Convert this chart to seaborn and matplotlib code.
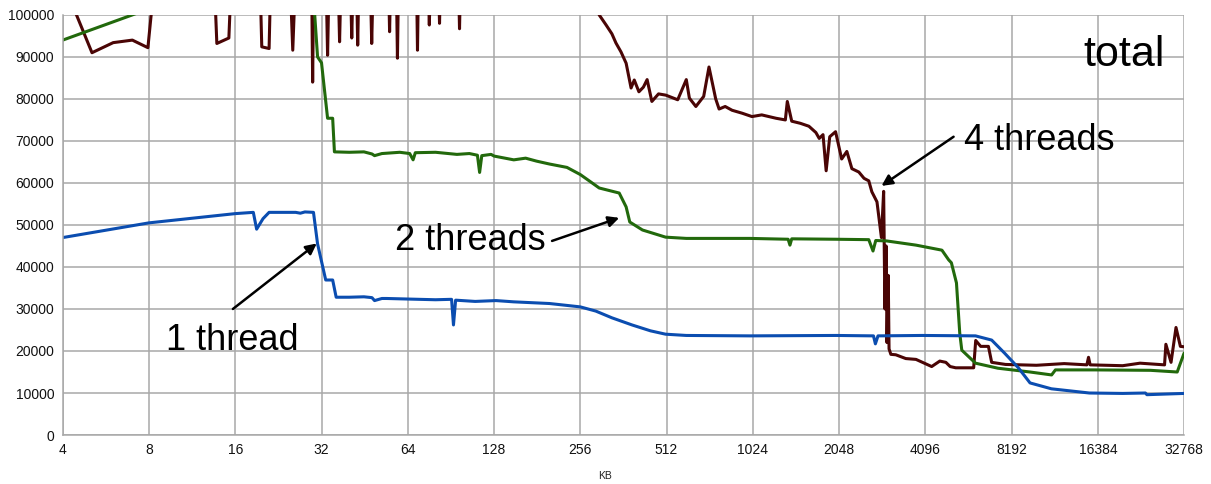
import numpy as np
import pandas as pd
import matplotlib
matplotlib.use('Agg')
import matplotlib.pyplot as plt
import seaborn as sns

# ==================== data ====================
# 1 thread
x_1t = [4, 8, 16, 18.5, 19.0, 20, 21, 26, 27, 28, 30.0, 31.0, 33.1, 35.0, 36.0,
        40, 45, 48, 49, 52, 54, 70, 80, 91, 92.4, 94, 110, 130, 150, 200, 256,
        290, 330, 388, 450, 508, 600, 1000, 2000, 2700, 2742, 2800, 4000, 6130,
        6980, 7740, 8650, 9500, 11280, 15300, 20000, 24000, 24300, 32768]
y_1t = [47000, 50500, 52700, 53000, 49000, 51500, 53000, 53000, 52800, 53100, 53000,
        45500, 36900, 36900, 32800, 32800, 32900, 32700, 32000, 32500, 32500, 32300,
        32200, 32300, 26200, 32100, 31800, 32000, 31700, 31300, 30500, 29500, 27900,
        26200, 24800, 24000, 23700, 23600, 23700, 23600, 21700, 23600, 23700, 23600,
        22600, 19500, 16000, 12400, 11000, 10000, 9900, 10000, 9600, 9900]

# 2 threads
x_2t = [4, 7.0, 8, 29.5, 30.3, 31.0, 32.0, 33.6, 35.0, 35.5, 40, 45, 48, 49, 52, 60,
        65, 66.8, 68, 80, 95, 105, 112, 114, 116, 125, 128, 150, 165, 180, 200, 230,
        256, 275, 298, 350, 370, 381, 422, 508, 600, 1000, 1360, 1380, 1400, 2000,
        2600, 2690, 2750, 3000, 3800, 4680, 4940, 5050, 5260, 5400, 5490, 6130, 7340,
        9500, 11300, 11650, 16000, 25000, 31000, 32768]
y_2t = [94000, 100000, 101500, 104000, 100000, 90000, 88600, 75400, 75400, 67400,
        67300, 67400, 66900, 66500, 67000, 67300, 67000, 65500, 67200, 67300, 66800,
        67000, 66600, 62500, 66500, 66800, 66400, 65500, 65900, 65200, 64500, 63700,
        62000, 60500, 58800, 57600, 54300, 50700, 48800, 47100, 46800, 46800, 46600,
        45200, 46700, 46600, 46500, 43800, 46300, 46200, 45200, 44000, 41700, 41000,
        36200, 24300, 20200, 17100, 15900, 15000, 14300, 15500, 15500, 15400, 15000,
        19500]

# 4 threads
x_4t = [4.0, 5.06, 6.0, 7.0, 7.93, 8.25, 13.6, 13.8, 15.2, 15.4, 19.6, 19.8, 21.0,
        21.2, 25.0, 25.4, 25.8, 29.6, 29.8, 30.0, 33.3, 33.6, 33.9, 36.7, 37.0, 37.3,
        40.5, 40.8, 41.1, 42.5, 42.8, 43.1, 47.5, 47.9, 48.3, 55.0, 55.3, 55.6, 58.5,
        58.9, 59.3, 68.8, 69.2, 69.6, 75.7, 76.1, 76.5, 82.2, 82.6, 83.0, 96.5, 97.0,
        97.5, 280, 298, 315, 330, 341, 355, 370, 385, 395, 410, 425, 438, 455, 480,
        509, 560, 600, 615, 648, 690, 720, 760, 781, 820, 867, 940, 1017, 1100, 1234,
        1330, 1351, 1400, 1500, 1607, 1700, 1746, 1800, 1846, 1900, 1991, 2091, 2180,
        2270, 2400, 2503, 2600, 2665, 2777, 2878, 2930, 2960, 2990, 3010, 3040, 3060,
        3105, 3230, 3500, 3800, 4000, 4310, 4600, 4830, 5000, 5230, 6040, 6140, 6390,
        6800, 6980, 7800, 10000, 12500, 15000, 15200, 15400, 20000, 23000, 28000,
        28300, 29500, 30700, 31800, 32768]
y_4t = [108000, 91000, 93400, 94000, 92200, 104000, 104000, 93200, 94500, 104000,
        104000, 92400, 92000, 104000, 104000, 91600, 104000, 104000, 84000, 104000,
        104000, 90400, 104000, 104000, 93600, 104000, 104000, 94500, 104000, 104000,
        92800, 104000, 104000, 93200, 104000, 104000, 96000, 104000, 104000, 89700,
        104000, 104000, 91600, 104000, 104000, 97600, 104000, 104000, 98000, 104000,
        104000, 96700, 104000, 104000, 100000, 97600, 95500, 93300, 91200, 88500,
        82600, 84500, 81700, 82800, 84600, 79400, 81200, 80900, 79800, 84600, 80200,
        78200, 80600, 87600, 80000, 77600, 78200, 77300, 76600, 75800, 76200, 75400,
        75000, 79400, 74700, 74200, 73500, 72000, 70600, 71500, 62900, 71000, 72200,
        65700, 67500, 63400, 62600, 61100, 60500, 57900, 55500, 47000, 58000, 30000,
        45000, 22000, 38000, 20500, 19200, 19100, 18200, 18000, 17300, 16300, 17600,
        17300, 16300, 16000, 16000, 22500, 21100, 21100, 17300, 16800, 16600, 17000,
        16700, 18500, 16700, 16500, 17100, 16700, 21600, 17300, 25600, 21100, 21000]

x_ticks = [4, 8, 16, 32, 64, 128, 256, 512, 1024, 2048, 4096, 8192, 16384, 32768]
y_ticks = [0, 10000, 20000, 30000, 40000, 50000, 60000, 70000, 80000, 90000, 100000]

series_colors = {'1 thread': '#0b4db0', '2 threads': '#22690c', '4 threads': '#4a0505'}

df = pd.concat([
    pd.DataFrame({'KB': x_1t, 'value': y_1t, 'series': '1 thread'}),
    pd.DataFrame({'KB': x_2t, 'value': y_2t, 'series': '2 threads'}),
    pd.DataFrame({'KB': x_4t, 'value': y_4t, 'series': '4 threads'}),
], ignore_index=True)

# ==================== plot ====================
sns.set_theme(style='whitegrid')
plt.rcParams['font.family'] = ['Liberation Sans', 'DejaVu Sans']
plt.rcParams['text.color'] = 'black'

fig = plt.figure(figsize=(12.11, 4.84), dpi=100)
ax = fig.add_axes([0.0518, 0.1012, 0.926, 0.868])

# red at the back, then green, blue on top
for name in ['4 threads', '2 threads', '1 thread']:
    sns.lineplot(data=df[df['series'] == name], x='KB', y='value', ax=ax,
                 color=series_colors[name], linewidth=2.2, estimator=None,
                 sort=False, legend=False)

ax.set_xscale('log', base=2)
ax.set_xlim(4, 32768)
ax.set_ylim(0, 100000)
ax.set_xticks(x_ticks)
ax.set_xticklabels([str(t) for t in x_ticks])
ax.set_yticks(y_ticks)
ax.set_yticklabels([str(t) for t in y_ticks])
ax.minorticks_off()
ax.set_xlabel('')
ax.set_ylabel('')

ax.grid(True, color='#a8a8a8', linewidth=1.1)
ax.set_axisbelow(True)
for s in ['top', 'right']:
    ax.spines[s].set_visible(False)
for s in ['left', 'bottom']:
    ax.spines[s].set_color('#a8a8a8')
    ax.spines[s].set_linewidth(1.1)
ax.tick_params(axis='both', which='major', length=4, width=1.1, color='#a8a8a8',
               labelsize=10, labelcolor='#111111', pad=2)

fig.text(0.4996, 0.016, 'KB', ha='center', va='center', fontsize=7.5, color='#222222')

# annotations
arrow = dict(arrowstyle='-|>', color='black', lw=1.8, mutation_scale=16, shrinkA=0, shrinkB=0)
ax.annotate('', xy=(30.8, 45600), xytext=(15.7, 30000), arrowprops=arrow)
ax.text(15.6, 22600, '1 thread', ha='center', va='center', fontsize=26, color='black')
ax.annotate('', xy=(350, 51700), xytext=(204, 46200), arrowprops=arrow)
ax.text(105.8, 46200, '2 threads', ha='center', va='center', fontsize=26, color='black')
ax.annotate('', xy=(2880, 59300), xytext=(5140, 71000), arrowprops=arrow)
ax.text(10240, 70200, '4 threads', ha='center', va='center', fontsize=26, color='black')
ax.text(0.983, 0.905, 'total', transform=ax.transAxes, ha='right', va='center',
        fontsize=31, color='black')

fig.savefig('out.png', dpi=100)
